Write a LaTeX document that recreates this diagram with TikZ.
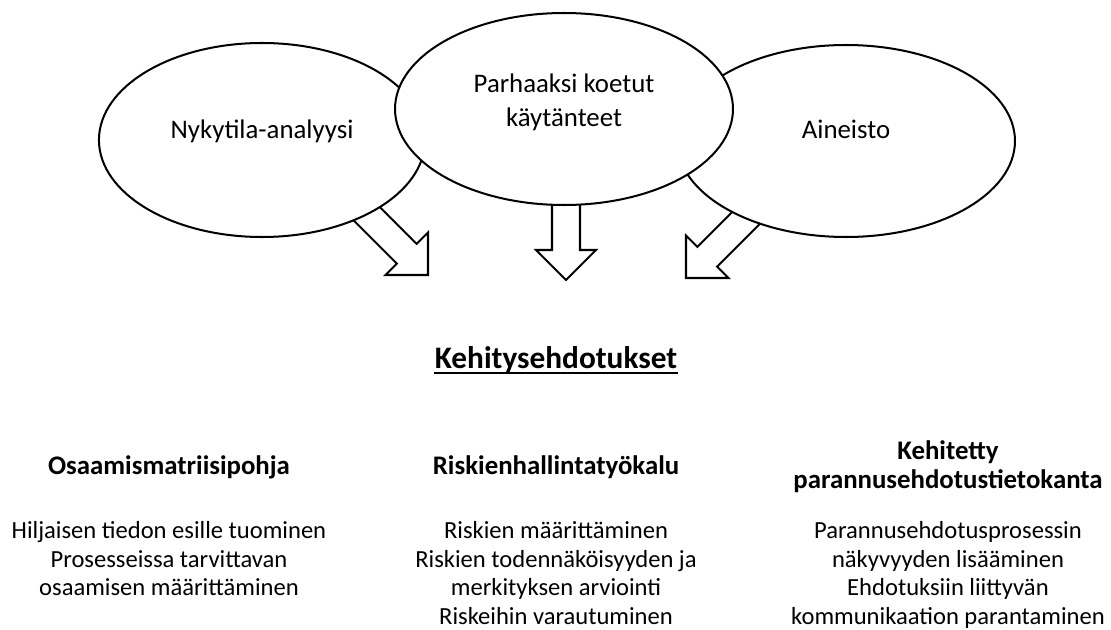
\documentclass[tikz,border=0pt]{standalone}
\usepackage{fontspec}
\setmainfont{Carlito}
\usetikzlibrary{shapes.geometric}

\tikzset{
  oval/.style={ellipse, draw=black, line width=0.9pt, fill=white, inner sep=0pt,
    minimum width=151.2pt, minimum height=85.9pt},
  ovaltext/.style={font=\fontsize{12}{15.2}\selectfont, align=center, inner sep=0pt},
  heading/.style={font=\fontsize{12}{13}\selectfont\bfseries, align=center, inner sep=0pt},
  bodytext/.style={font=\fontsize{11}{12.85}\selectfont, align=center, inner sep=0pt},
  blockarrow/.style={draw=black, line width=0.9pt, fill=white, line join=miter},
}

\begin{document}
\begin{tikzpicture}[x=0.4474pt, y=-0.4474pt]
  \useasboundingbox (0,0) rectangle (1111,630);

  % block arrows, tails go under the ovals
  \foreach \tx/\ty/\ang in {428/275/45, 566/280/0, 686/278/-45} {
    \begin{scope}[shift={(\tx,\ty)}, rotate=\ang]
      \draw[blockarrow] (0,0) -- (30,-30) -- (14,-30) -- (14,-100) -- (-14,-100)
        -- (-14,-30) -- (-30,-30) -- cycle;
    \end{scope}
  }

  % ovals: middle one lies on top
  \node[oval, minimum width=145.9pt, minimum height=86.8pt] (analyysi) at (262,140) {};
  \node[oval] (aineisto) at (846,141) {};
  \node[oval] (kaytanteet) at (564,109) {};

  \node[ovaltext, anchor=base] (t-analyysi) at (262,139) {Nykytila-analyysi};
  \node[ovaltext, anchor=base] (t-aineisto) at (846,139) {Aineisto};
  \node[ovaltext, anchor=north] (t-kaytanteet) at (564,68) {\strut Parhaaksi koetut\\käytänteet};

  % title
  \node[font=\fontsize{14}{17}\selectfont\bfseries, inner sep=0pt, anchor=base] (otsikko) at (556,368) {Kehitysehdotukset};
  \draw[line width=0.9pt] ([yshift=-2.2pt]otsikko.base west) -- ([yshift=-2.2pt]otsikko.base east);

  % columns
  \node[heading, anchor=base] (h-osaaminen) at (169,474) {Osaamismatriisipohja};
  \node[heading, anchor=base] (h-riskit) at (556,474) {Riskienhallintatyökalu};
  \node[heading, anchor=north] (h-kanta) at (948,439) {\strut Kehitetty\\parannusehdotustietokanta};

  \node[bodytext, anchor=north] (b-osaaminen) at (169,518)
    {\strut Hiljaisen tiedon esille tuominen\\Prosesseissa tarvittavan\\osaamisen määrittäminen};
  \node[bodytext, anchor=north] (b-riskit) at (556,518)
    {\strut Riskien määrittäminen\\Riskien todennäköisyyden ja\\merkityksen arviointi\\Riskeihin varautuminen};
  \node[bodytext, anchor=north] (b-kanta) at (948,518)
    {\strut Parannusehdotusprosessin\\näkyvyyden lisääminen\\Ehdotuksiin liittyvän\\kommunikaation parantaminen};
\end{tikzpicture}
\end{document}
